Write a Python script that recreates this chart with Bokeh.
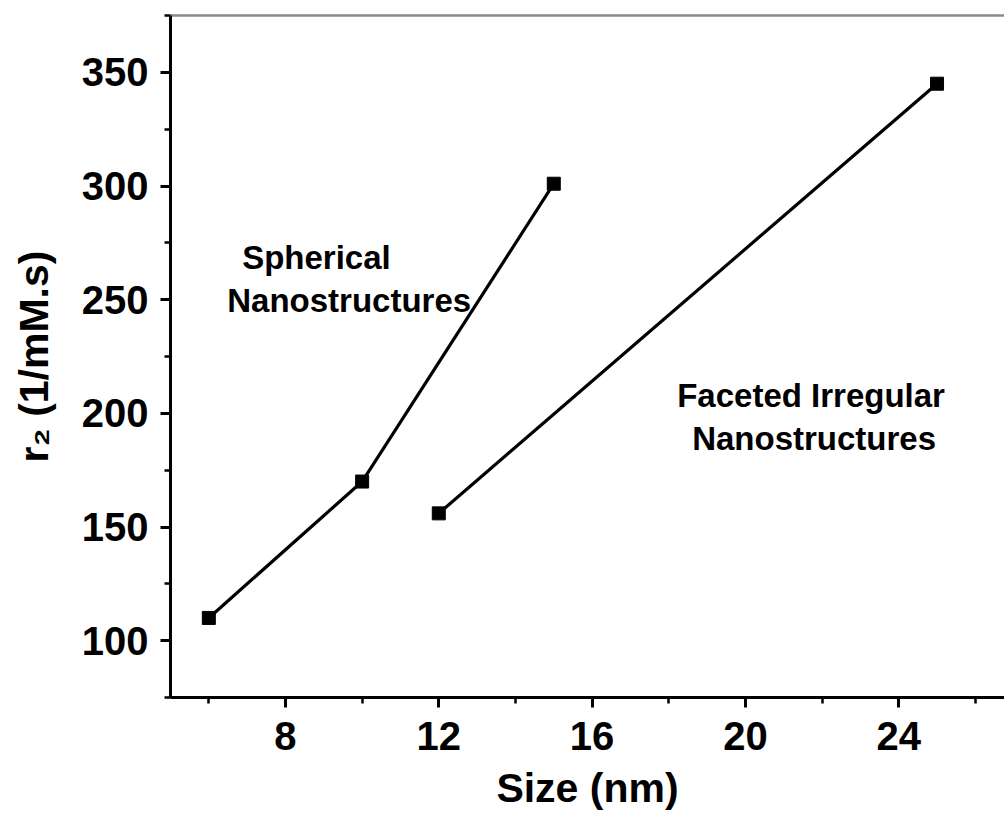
from bokeh.plotting import figure
from bokeh.models import FixedTicker, LinearAxis, Range1d, ColumnDataSource
from bokeh.core.properties import value
from bokeh.embed import file_html
from bokeh.resources import INLINE

# data
sph_size = [6, 10, 15]
sph_r2 = [110, 170, 301]
fac_size = [12, 25]
fac_r2 = [156, 345]

x_major = [8, 12, 16, 20, 24]
x_minor = [6, 10, 14, 18, 22, 26]
y_major = [100, 150, 200, 250, 300, 350]
y_minor = [75, 125, 175, 225, 275, 325, 375]

ann_text = ["Spherical", "Nanostructures", "Faceted Irregular", "Nanostructures"]
ann_x = [6.87, 6.48, 18.22, 18.61]
ann_y = [268.7, 249.6, 207.8, 188.9]

FONT = "Liberation Sans"

p = figure(width=1004, height=817, output_backend="svg", toolbar_location=None,
           x_range=Range1d(5, 26.76), y_range=Range1d(75, 375),
           min_border_left=170, min_border_right=0, min_border_top=15, min_border_bottom=120)
p.outline_line_color = None
p.grid.visible = False
p.background_fill_color = "white"
p.border_fill_color = "white"

for ax, maj, mn in ((p.xaxis[0], x_major, x_minor), (p.yaxis[0], y_major, y_minor)):
    ax.ticker = FixedTicker(ticks=maj, minor_ticks=mn)
    ax.axis_line_width = 3
    ax.axis_line_color = "black"
    ax.major_tick_line_width = 3
    ax.minor_tick_line_width = 2.5
    ax.major_tick_out = 10
    ax.major_tick_in = 0
    ax.minor_tick_out = 6
    ax.minor_tick_in = 0
    ax.major_label_text_font = FONT
    ax.major_label_text_font_style = "bold"
    ax.major_label_text_font_size = "40px"
    ax.major_label_text_color = "black"
    ax.axis_label_text_font = FONT
    ax.axis_label_text_font_style = "bold"
    ax.axis_label_text_font_size = "41px"
    ax.axis_label_text_color = "black"

p.xaxis.axis_label = "Size (nm)"
p.yaxis.axis_label = "r\u2082 (1/mM.s)"
p.xaxis.major_label_standoff = 14
p.yaxis.major_label_standoff = 12
p.xaxis.axis_label_standoff = 12
p.yaxis.axis_label_standoff = 22

top = LinearAxis(ticker=FixedTicker(ticks=[]), axis_line_color="#8a8a8a", axis_line_width=2.5,
                 major_tick_line_color=None, minor_tick_line_color=None,
                 major_label_text_font_size="0px")
p.add_layout(top, "above")

p.line(sph_size, sph_r2, line_width=3.2, color="black")
p.line(fac_size, fac_r2, line_width=3.2, color="black")
p.scatter(sph_size, sph_r2, marker="square", size=13, color="black")
p.scatter(fac_size, fac_r2, marker="square", size=13, color="black")

src = ColumnDataSource(dict(x=ann_x, y=ann_y, t=ann_text))
p.text(x="x", y="y", text="t", source=src, text_font=value(FONT), text_font_style="bold",
       text_font_size="33px", text_align="left", text_baseline="alphabetic", text_color="black")

open("out.html", "w").write(file_html(p, INLINE))
